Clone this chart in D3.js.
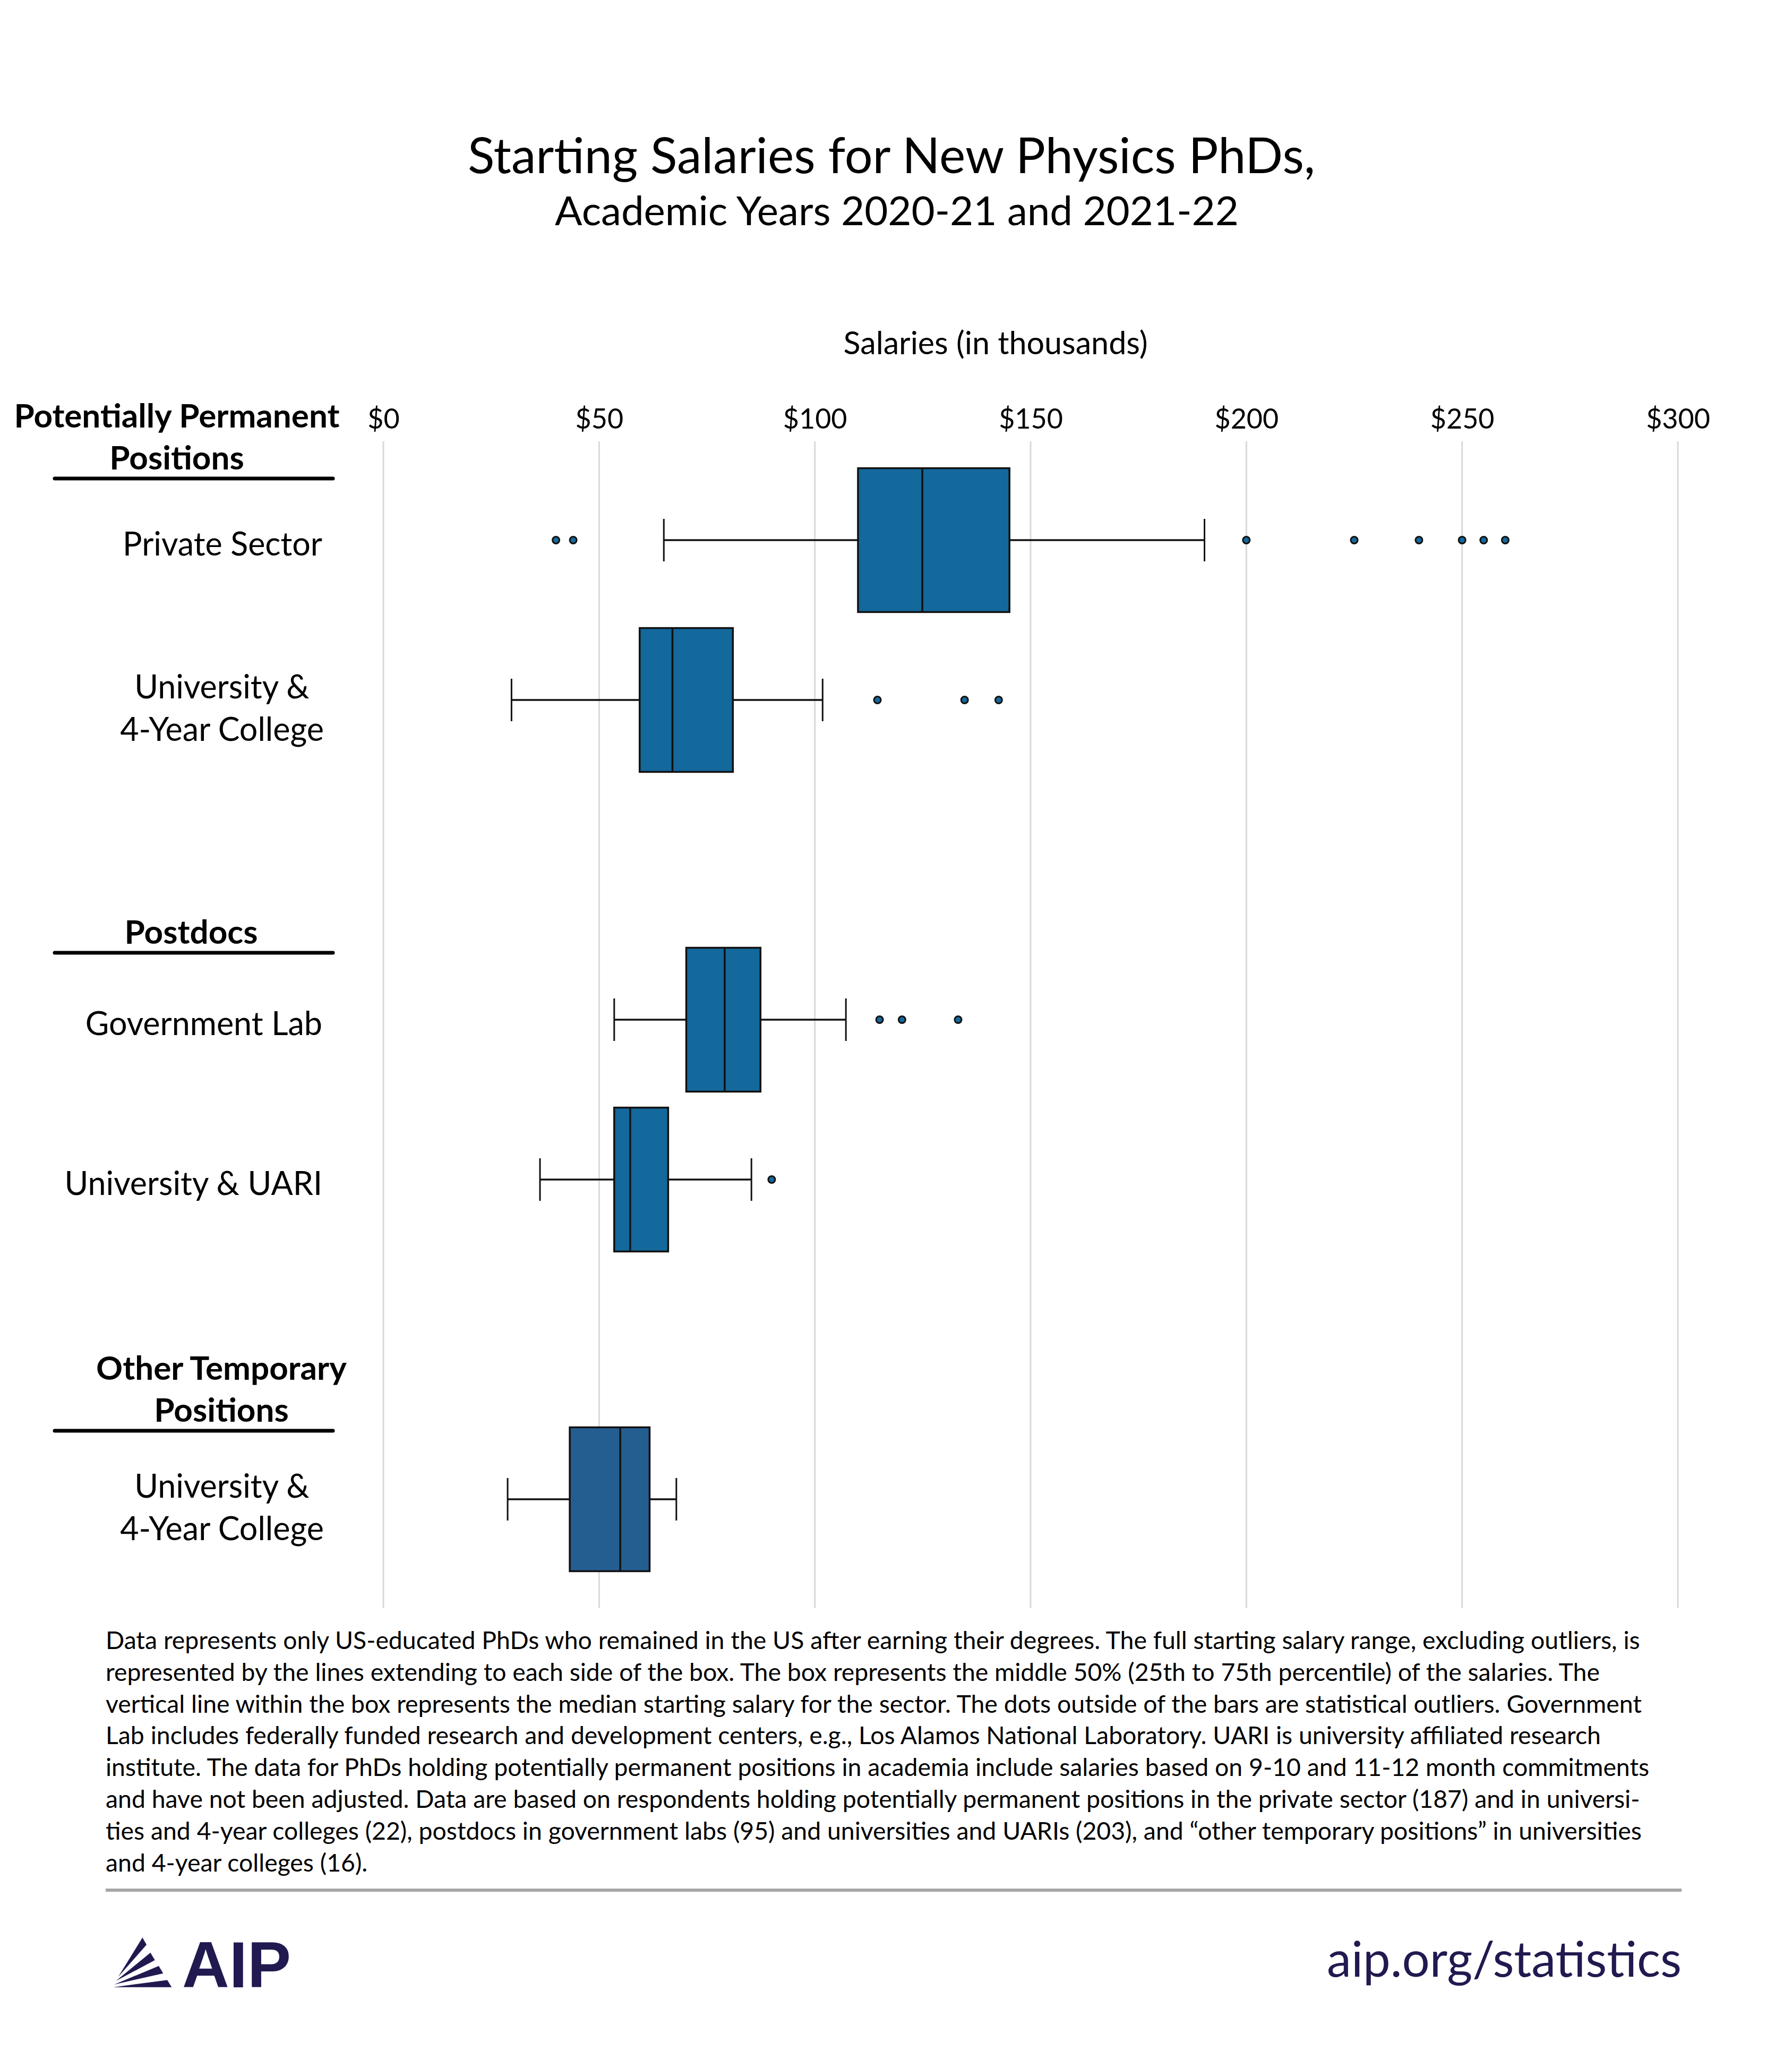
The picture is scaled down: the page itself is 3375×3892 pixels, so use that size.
<!DOCTYPE html>
<html><head><meta charset="utf-8">
<script src="https://cdn.jsdelivr.net/npm/d3@7"></script>
<style>html,body{margin:0;padding:0;background:#fff}</style>
</head><body>
<script>
// ---------------- DATA ----------------
const groups = ["Potentially Permanent\nPositions", "Postdocs", "Other Temporary\nPositions"];
const categories = ["Private Sector", "University &\n4-Year College", "Government Lab", "University & UARI", "University &\n4-Year College"];
const categoryGroup = [0, 0, 1, 1, 2];
const whiskerLow  = [65.0, 29.7, 53.5, 36.3, 28.8];
const quartile1   = [110.0, 59.4, 70.2, 53.5, 43.2];
const medians     = [124.9, 67.0, 79.1, 57.2, 54.9];
const quartile3   = [145.1, 81.0, 87.4, 66.0, 61.7];
const whiskerHigh = [190.3, 101.8, 107.2, 85.3, 67.9];
const outliers = [
  [40, 44, 200, 225, 240, 250, 255, 260],
  [114.5, 134.7, 142.6],
  [115, 120.2, 133.2],
  [90],
  []
];
const tickValues = [0, 50, 100, 150, 200, 250, 300];
const tickLabels = ["$0", "$50", "$100", "$150", "$200", "$250", "$300"];
const title = "Starting Salaries for New Physics PhDs,";
const subtitle = "Academic Years 2020-21 and 2021-22";
const axisTitle = "Salaries (in thousands)";
const footnote = [
  "Data represents only US-educated PhDs who remained in the US after earning their degrees. The full starting salary range, excluding outliers, is",
  "represented by the lines extending to each side of the box. The box represents the middle 50% (25th to 75th percentile) of the salaries. The",
  "vertical line within the box represents the median starting salary for the sector.  The dots outside of the bars are statistical outliers. Government",
  "Lab includes federally funded research and development centers, e.g., Los Alamos National Laboratory. UARI is university affiliated research",
  "institute. The data for PhDs holding potentially permanent positions in academia include salaries based on 9-10 and 11-12 month commitments",
  "and have not been adjusted. Data are based on respondents holding potentially permanent positions in the private sector (187) and in universi-",
  "ties and 4-year colleges (22), postdocs in government labs (95) and universities and UARIs (203), and \u201cother temporary positions\u201d in universities",
  "and 4-year colleges (16)."
];

// ---------------- LAYOUT ----------------
const W = 3375, H = 3892;
const FONT = "Lato, 'Open Sans', 'Noto Sans', sans-serif";
const boxColors = ["#13689C", "#13689C", "#13689C", "#13689C", "#245E91"];
const navy = "#201a50";
const slots = ["r0", "r1", "gap1", "r2", "r3", "gap2", "r4"];
const rowSlot = ["r0", "r1", "r2", "r3", "r4"];
const groupHeaderCx = [333, 360, 417];
const groupUnderlineOffset = [116, 126, 129];

const svg = d3.select("body").append("svg")
  .attr("width", W).attr("height", H)
  .style("font-family", FONT);
svg.append("rect").attr("width", W).attr("height", H).attr("fill", "#fff");

const x = d3.scaleLinear().domain([0, 300]).range([722, 3160]);
const y = d3.scaleBand().domain(slots).range([866.5, 2973.5]).paddingInner(0.1).paddingOuter(0.05);
const cy = i => y(rowSlot[i]) + y.bandwidth() / 2;

function fit(sel, target) {
  const len = sel.node().getComputedTextLength();
  const fs = parseFloat(sel.attr("font-size"));
  sel.attr("font-size", fs * target / len);
  return fs * target / len;
}

// Titles
fit(svg.append("text").attr("x", 1679).attr("y", 326).attr("text-anchor", "middle")
  .attr("font-size", 90).attr("fill", "#000").text(title), 1596);
fit(svg.append("text").attr("x", 1689).attr("y", 424).attr("text-anchor", "middle")
  .attr("font-size", 70).attr("fill", "#000").text(subtitle), 1288);
fit(svg.append("text").attr("x", 1875).attr("y", 667).attr("text-anchor", "middle")
  .attr("font-size", 55).attr("fill", "#000").text(axisTitle), 573);

// Gridlines
svg.append("g").selectAll("line").data(tickValues).join("line")
  .attr("x1", d => x(d)).attr("x2", d => x(d))
  .attr("y1", 831).attr("y2", 3028)
  .attr("stroke", "#d9d9d9").attr("stroke-width", 3);

// Axis (top)
const axis = d3.axisTop(x).tickValues(tickValues)
  .tickFormat((d, i) => tickLabels[i]).tickSize(0).tickPadding(0);
const ag = svg.append("g").attr("transform", "translate(0,807)").call(axis);
ag.select(".domain").remove();
ag.selectAll("text").attr("font-size", 52).attr("font-family", FONT).attr("fill", "#000").attr("dy", 0);

// Group headers
groups.forEach((g, gi) => {
  const first = categoryGroup.indexOf(gi);
  const c = cy(first);
  const ul = c - groupUnderlineOffset[gi];
  const lines = g.split("\n");
  lines.forEach((ln, li) => {
    svg.append("text")
      .attr("x", groupHeaderCx[gi])
      .attr("y", ul - 17 - (lines.length - 1 - li) * 79)
      .attr("text-anchor", "middle").attr("font-weight", 700)
      .attr("font-size", 62).attr("fill", "#000").text(ln);
  });
  svg.append("line").attr("x1", 103).attr("x2", 627).attr("y1", ul).attr("y2", ul)
    .attr("stroke", "#000").attr("stroke-width", 7).attr("stroke-linecap", "round");
});

// Category labels
categories.forEach((c, i) => {
  const lines = c.split("\n");
  const yc = cy(i);
  if (lines.length === 1) {
    svg.append("text").attr("x", 607).attr("y", yc + 8).attr("dy", "0.35em")
      .attr("text-anchor", "end").attr("font-size", 61).attr("fill", "#000").text(lines[0]);
  } else {
    lines.forEach((ln, li) => {
      svg.append("text").attr("x", 418).attr("y", yc - 24 + li * 80).attr("dy", "0.35em")
        .attr("text-anchor", "middle").attr("font-size", 61).attr("fill", "#000").text(ln);
    });
  }
});

// Box plots
const bg = svg.append("g");
categories.forEach((c, i) => {
  const yc = cy(i);
  const top = y(rowSlot[i]), bh = y.bandwidth();
  const g = bg.append("g");
  g.append("line").attr("x1", x(whiskerLow[i])).attr("x2", x(quartile1[i]))
    .attr("y1", yc).attr("y2", yc).attr("stroke", "#111").attr("stroke-width", 3.5);
  g.append("line").attr("x1", x(quartile3[i])).attr("x2", x(whiskerHigh[i]))
    .attr("y1", yc).attr("y2", yc).attr("stroke", "#111").attr("stroke-width", 3.5);
  [whiskerLow[i], whiskerHigh[i]].forEach(v => {
    g.append("line").attr("x1", x(v)).attr("x2", x(v))
      .attr("y1", yc - 40).attr("y2", yc + 40).attr("stroke", "#111").attr("stroke-width", 3);
  });
  g.append("rect").attr("x", x(quartile1[i])).attr("y", top)
    .attr("width", x(quartile3[i]) - x(quartile1[i])).attr("height", bh)
    .attr("fill", boxColors[i]).attr("stroke", "#111").attr("stroke-width", 3.5);
  g.append("line").attr("x1", x(medians[i])).attr("x2", x(medians[i]))
    .attr("y1", top).attr("y2", top + bh).attr("stroke", "#111").attr("stroke-width", 3.5);
  g.selectAll("circle").data(outliers[i]).join("circle")
    .attr("cx", d => x(d)).attr("cy", yc).attr("r", 6.5)
    .attr("fill", boxColors[i]).attr("stroke", "#111").attr("stroke-width", 3);
});

// Footnote
const fg = svg.append("g");
const fl = fg.selectAll("text").data(footnote).join("text")
  .attr("x", 199).attr("y", (d, i) => 3105 + i * 59.8)
  .attr("font-size", 40).attr("fill", "#000").text(d => d);
let maxLen = 0; fl.each(function () { maxLen = Math.max(maxLen, this.getComputedTextLength()); });
fl.attr("font-size", 40 * 2908 / maxLen);

// Divider
svg.append("line").attr("x1", 199).attr("x2", 3167).attr("y1", 3559).attr("y2", 3559)
  .attr("stroke", "#a6a6a6").attr("stroke-width", 6);

// AIP logo
const wedges = [
  [[268.3, 3648.3], [276, 3661.7], [222.7, 3722.3]],
  [[283.3, 3676.7], [291.7, 3690.7], [218.3, 3730]],
  [[299, 3701.7], [307.3, 3715.7], [215, 3736.7]],
  [[315, 3728.3], [323.3, 3741.7], [213.3, 3741.7]]
];
svg.append("g").selectAll("path").data(wedges).join("path")
  .attr("d", d => "M" + d.map(p => p.join(",")).join("L") + "Z").attr("fill", navy);
const aip = svg.append("text").attr("x", 343).attr("y", 3742)
  .attr("font-family", "'Liberation Sans', Arial, sans-serif").attr("font-weight", 700)
  .attr("font-size", 131).attr("fill", navy).text("AIP");
fit(aip, 205);
fit(svg.append("text").attr("x", 3167).attr("y", 3722).attr("text-anchor", "end")
  .attr("font-size", 90).attr("fill", navy).text("aip.org/statistics"), 668);
</script>
</body></html>
